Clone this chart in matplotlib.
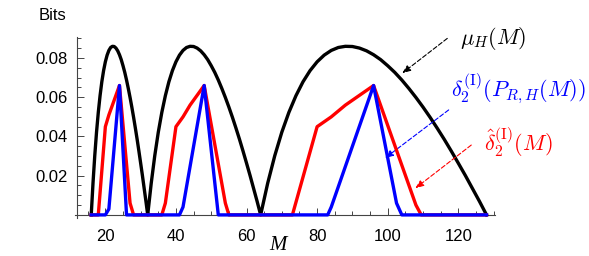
import matplotlib
matplotlib.use("Agg")
import matplotlib.pyplot as plt
from matplotlib.ticker import MultipleLocator, FixedLocator

plt.rcParams['mathtext.fontset'] = 'cm'
plt.rcParams['font.family'] = ['Liberation Sans', 'DejaVu Sans']

# mu_H(M) (black): each arch read at 33 evenly spaced points between the zeros
arch_values = [0.0, 0.0162, 0.0302, 0.0422, 0.0523, 0.0608, 0.0679, 0.0736,
               0.0781, 0.0815, 0.0839, 0.0854, 0.0860, 0.0859, 0.0851, 0.0837,
               0.0817, 0.0792, 0.0761, 0.0727, 0.0688, 0.0645, 0.0599, 0.0550,
               0.0498, 0.0443, 0.0386, 0.0326, 0.0264, 0.0201, 0.0135, 0.0069, 0.0]
arch_starts = [16, 32, 64]
mu_M = []
mu_v = []
for k, s in enumerate(arch_starts):
    step = s / 32
    for j, v in enumerate(arch_values):
        if k > 0 and j == 0:
            continue
        mu_M.append(s + j * step)
        mu_v.append(v)

# hat delta_2^(I)(M) (red)
red_M = [16, 18, 20, 21, 22, 23, 24, 27, 28, 36, 37, 40, 42, 44, 46, 48,
         54, 55, 73, 80, 84, 88, 92, 96, 108, 109.5, 128]
red_v = [0, 0, 0.045, 0.051, 0.056, 0.061, 0.066, 0.006, 0, 0, 0.006, 0.045,
         0.050, 0.056, 0.061, 0.066, 0.006, 0, 0, 0.045, 0.050, 0.056, 0.061,
         0.066, 0.005, 0, 0]

# delta_2^(I)(P_{R,H}(M)) (blue)
blue_M = [16, 20, 21, 24, 26, 41, 42, 48, 52, 83, 84, 96, 102.5, 104, 128]
blue_v = [0, 0, 0.003, 0.066, 0, 0, 0.004, 0.066, 0, 0, 0.004, 0.066, 0.006, 0, 0]

yticks = [0.02, 0.04, 0.06, 0.08]
ytick_labels = ["0.02", "0.04", "0.06", "0.08"]
xticks = [20, 40, 60, 80, 100, 120]

fig = plt.figure(figsize=(5.89, 2.56), dpi=100)
ax = fig.add_axes([75/589, (256 - 217.7)/256, (495 - 75)/589, (217.7 - 37.3)/256])
ax.set_xlim(11.4, 130.4)
ax.set_ylim(-0.00143, 0.0906)

lw = 2.4
ax.plot(mu_M, mu_v, color='black', lw=lw, solid_joinstyle='round', clip_on=False, zorder=3)
ax.plot(red_M, red_v, color='#ff0000', lw=lw, solid_joinstyle='round', clip_on=False, zorder=4)
ax.plot(blue_M, blue_v, color='#0000ff', lw=lw, solid_joinstyle='round', clip_on=False, zorder=5)

for s in ['top', 'right']:
    ax.spines[s].set_visible(False)
ax.spines['left'].set_position(('data', 12.0))
ax.spines['bottom'].set_position(('data', 0))
for s in ['left', 'bottom']:
    ax.spines[s].set_color('#444444')
    ax.spines[s].set_linewidth(0.8)

ax.xaxis.set_major_locator(FixedLocator(xticks))
ax.xaxis.set_minor_locator(MultipleLocator(5))
ax.set_yticks(yticks)
ax.set_yticklabels(ytick_labels)
ax.yaxis.set_minor_locator(MultipleLocator(0.005))
ax.tick_params(axis='both', which='both', direction='in', color='#444444', width=0.7)
ax.tick_params(axis='both', which='major', length=5, labelsize=12)
ax.tick_params(axis='both', which='minor', length=3)
ax.tick_params(axis='y', which='major', pad=7)
ax.tick_params(axis='x', which='major', pad=10)

fig.text(53/589, 1 - 16/256, "Bits", ha='center', va='center', fontsize=12)
fig.text(278/589, 1 - 245/256, "M", ha='center', va='center', fontsize=15,
         family='Liberation Serif', style='italic')

# annotations
ax.annotate("", xy=(103.5, 0.0714), xytext=(117.5, 0.0909),
            arrowprops=dict(arrowstyle='-|>,head_length=0.5,head_width=0.2', color='black',
                            lw=0.8, linestyle=(0, (4, 2))), annotation_clip=False)
ax.annotate("", xy=(98.6, 0.0281), xytext=(117.9, 0.0544),
            arrowprops=dict(arrowstyle='-|>,head_length=0.5,head_width=0.2', color='#0000ff',
                            lw=0.8, linestyle=(0, (4, 2))), annotation_clip=False)
ax.annotate("", xy=(107.2, 0.0127), xytext=(124.3, 0.0365),
            arrowprops=dict(arrowstyle='-|>,head_length=0.5,head_width=0.2', color='#ff0000',
                            lw=0.8, linestyle=(0, (4, 2))), annotation_clip=False)

fig.text(493/589, 1 - 39/256, r"$\mu_H(M)$", ha='center', va='center', fontsize=16, color='black')
fig.text(519/589, 1 - 89/256, r"$\delta_2^{(\mathrm{I})}(P_{R,H}(M))$", ha='center', va='center',
         fontsize=16, color='#0000ff')
fig.text(518/589, 1 - 142/256, r"$\hat{\delta}_2^{(\mathrm{I})}(M)$", ha='center', va='center',
         fontsize=16, color='#ff0000')

fig.savefig("out.png", dpi=100)
